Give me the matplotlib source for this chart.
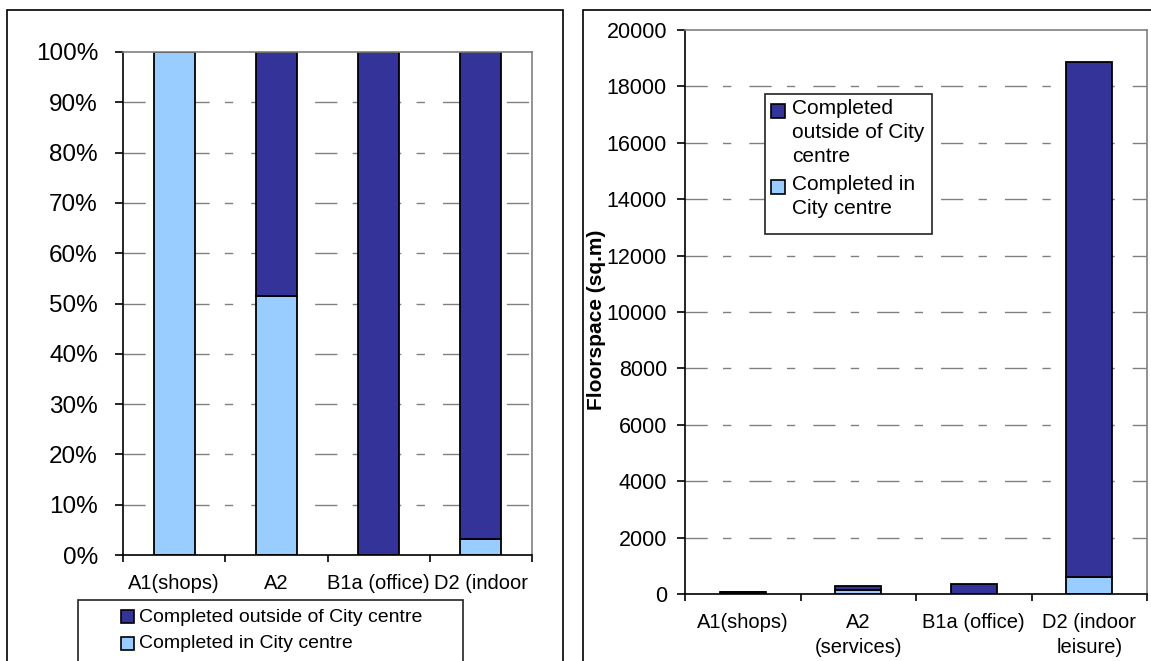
import matplotlib
matplotlib.use("Agg")
import matplotlib.pyplot as plt
from matplotlib.patches import Rectangle
from matplotlib.ticker import FixedLocator

plt.rcParams["font.family"] = ["Liberation Sans", "DejaVu Sans"]

# -----------------------------
# Data
# -----------------------------
categories = ["A1(shops)", "A2\n(services)", "B1a (office)", "D2 (indoor\nleisure)"]
# left chart: second label line is hidden behind its legend
categories_left = ["A1(shops)", "A2", "B1a (office)", "D2 (indoor"]
series_labels = ["Completed outside of City centre", "Completed in City centre"]
series_labels_wrapped = ["Completed\noutside of City\ncentre", "Completed in\nCity centre"]

pct_in_centre = [100.0, 51.5, 0.0, 3.2]
pct_outside = [0.0, 48.5, 100.0, 96.8]

sqm_in_centre = [60, 155, 0, 620]
sqm_outside = [0, 145, 370, 18230]

pct_ticks = [0, 10, 20, 30, 40, 50, 60, 70, 80, 90, 100]
sqm_ticks = [0, 2000, 4000, 6000, 8000, 10000, 12000, 14000, 16000, 18000, 20000]

DARK = "#333399"
LIGHT = "#99CCFF"
GRID = "#808080"
DASH = (0, (16, 11, 6, 13))

W, H = 1151, 661
fig = plt.figure(figsize=(W / 100, H / 100), dpi=100)


def fx(x):
    return x / W


def fy(y):
    return 1 - y / H


def px_box(x0, y0, x1, y1):
    # pixel box (top-left origin) -> figure fraction [left, bottom, width, height]
    return [fx(x0), fy(y1), (x1 - x0) / W, (y1 - y0) / H]


def fig_rect(x0, y0, x1, y1, **kw):
    fig.patches.append(Rectangle((fx(x0), fy(y1)), (x1 - x0) / W, (y1 - y0) / H,
                                 transform=fig.transFigure, **kw))


# panel frames
fig_rect(7, 10, 563, 690, fill=False, edgecolor="black", linewidth=1.2, zorder=0)
fig_rect(583, 10, 1165, 690, fill=False, edgecolor="black", linewidth=1.2, zorder=0)


def style_axes(ax, labels, ticks, ymax, ylab_size, xlab_size, xpad, ypad):
    ax.set_xlim(-0.5, 3.5)
    ax.set_ylim(0, ymax)
    ax.set_yticks(ticks)
    for t in ticks[1:-1]:
        ax.axhline(t, color=GRID, linewidth=1, linestyle=DASH, zorder=0)
    ax.spines["left"].set_color("black")
    ax.spines["bottom"].set_color("black")
    ax.spines["top"].set_color(GRID)
    ax.spines["right"].set_color(GRID)
    for s in ax.spines.values():
        s.set_linewidth(1.2)
    ax.set_xticks(range(len(labels)))
    ax.set_xticklabels(labels, fontsize=xlab_size, linespacing=1.4)
    ax.xaxis.set_minor_locator(FixedLocator([-0.5, 0.5, 1.5, 2.5, 3.5]))
    ax.tick_params(axis="x", which="major", length=0, pad=xpad)
    ax.tick_params(axis="x", which="minor", length=5, width=1.2, direction="out")
    ax.tick_params(axis="y", length=6, width=1.2, direction="out",
                   labelsize=ylab_size, pad=ypad)


def draw_bars(ax, low, high):
    x = range(len(low))
    ax.bar(x, low, width=0.4, color=LIGHT, edgecolor="black", linewidth=1.3, zorder=2)
    ax.bar(x, high, width=0.4, bottom=low, color=DARK, edgecolor="black",
           linewidth=1.3, zorder=2)


# -----------------------------
# Left: percentage split
# -----------------------------
ax1 = fig.add_axes(px_box(123, 52, 532, 555))
draw_bars(ax1, pct_in_centre, pct_outside)
style_axes(ax1, categories_left, pct_ticks, 100, 17.5, 14.5, 14, 12)
ax1.set_yticklabels([f"{t}%" for t in pct_ticks])

# -----------------------------
# Right: floorspace
# -----------------------------
ax2 = fig.add_axes(px_box(685, 30, 1147, 594))
draw_bars(ax2, sqm_in_centre, sqm_outside)
style_axes(ax2, categories, sqm_ticks, 20000, 15.5, 14.5, 14, 7)
ax2.set_ylabel("Floorspace (sq.m)", fontsize=15, fontweight="bold")
ax2.yaxis.set_label_coords(-0.172, 0.486)

# -----------------------------
# Legends (Excel style, marker next to first line)
# -----------------------------
# left legend, partly cut off by the bottom edge
fig_rect(78, 600, 463, 700, facecolor="white", edgecolor="#222222", linewidth=1.2, zorder=10)
for my, label, color in [(617, series_labels[0], DARK), (644, series_labels[1], LIGHT)]:
    fig_rect(121, my - 7, 134, my + 6, facecolor=color, edgecolor="black",
             linewidth=1.2, zorder=11)
    fig.text(fx(139), fy(my), label, fontsize=14, ha="left", va="center", zorder=12)

# right legend
fig_rect(765, 94, 932, 234, facecolor="white", edgecolor="#222222", linewidth=1.2, zorder=10)
for my, label, color in [(111, series_labels_wrapped[0], DARK),
                         (187, series_labels_wrapped[1], LIGHT)]:
    fig_rect(771, my - 7, 785, my + 7, facecolor=color, edgecolor="black",
             linewidth=1.2, zorder=11)
    fig.text(fx(792), fy(my - 12), label, fontsize=15, ha="left", va="top",
             linespacing=1.32, zorder=12)

fig.savefig("out.png", dpi=100)
